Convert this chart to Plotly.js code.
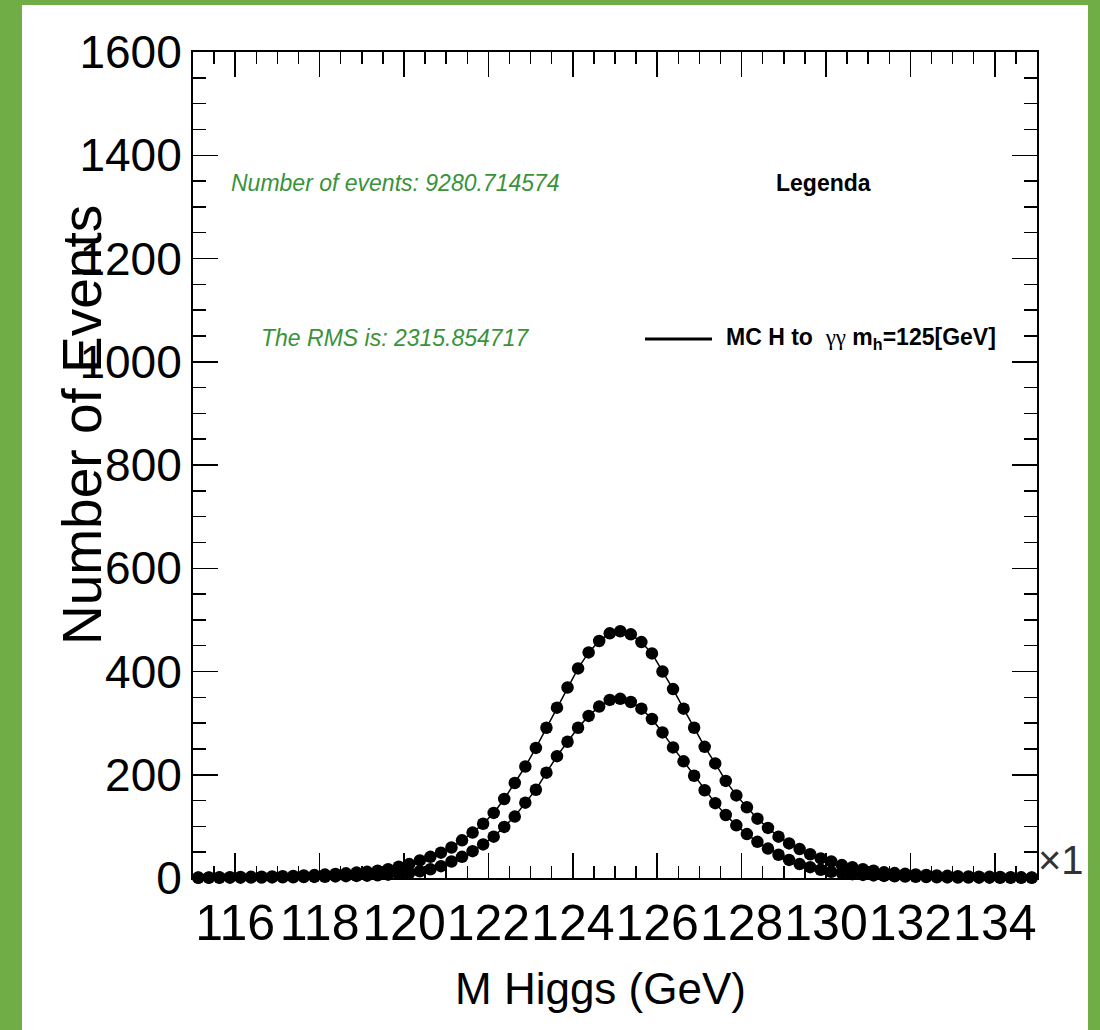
<!DOCTYPE html>
<html>
<head>
<meta charset="utf-8">
<script src="https://cdn.plot.ly/plotly-3.0.1.min.js"></script>
<style>
  html, body { margin: 0; padding: 0; background: #70ad47; width: 1100px; height: 1030px; overflow: hidden; }
  #chart { position: absolute; left: 22px; top: 5px; width: 1066px; height: 1025px; overflow: hidden; background: #ffffff; }
</style>
</head>
<body>
<div id="chart"></div>
<script>
// Bin centres (GeV)
const massBins = [
  115.125,115.375,115.625,115.875,116.125,116.375,116.625,116.875,
  117.125,117.375,117.625,117.875,118.125,118.375,118.625,118.875,
  119.125,119.375,119.625,119.875,120.125,120.375,120.625,120.875,
  121.125,121.375,121.625,121.875,122.125,122.375,122.625,122.875,
  123.125,123.375,123.625,123.875,124.125,124.375,124.625,124.875,
  125.125,125.375,125.625,125.875,126.125,126.375,126.625,126.875,
  127.125,127.375,127.625,127.875,128.125,128.375,128.625,128.875,
  129.125,129.375,129.625,129.875,130.125,130.375,130.625,130.875,
  131.125,131.375,131.625,131.875,132.125,132.375,132.625,132.875,
  133.125,133.375,133.625,133.875,134.125,134.375,134.625,134.875
];

// Upper curve (events per bin)
const eventsUpper = [
  1.0,1.2,1.4,1.6,1.9,2.2,2.6,3.0,
  3.5,4.1,4.8,5.6,6.6,7.7,9.0,10.5,
  12,14,17,22,27,34,41,49,
  59,73,88,105,126,153,184,216,
  252,291,330,369,406,437,459,474,
  478,472,457,435,400,366,328,291,
  254,222,188,160,137,115,97,80,
  67,56,46,38,32,25,21,17,
  14,11,9.5,8.0,6.8,5.8,4.9,4.2,
  3.6,3.1,2.6,2.2,1.9,1.6,1.3,1.1
];

// Lower curve (events per bin)
const eventsLower = [
  0.3,0.4,0.5,0.6,0.7,0.8,0.9,1.1,
  1.3,1.5,1.8,2.1,2.5,3.0,3.5,4.0,
  4.6,5.3,6.5,8,10,13,17,23,
  32,41,52,65,80,99,119,146,
  171,204,236,264,291,314,332,345,
  347,341,328,308,282,253,226,198,
  170,145,122,102,85,70,57,45,
  35,27,21,16,12,9.5,7.5,6.0,
  5.0,4.0,3.3,2.7,2.2,1.8,1.5,1.2,
  1.0,0.8,0.7,0.6,0.5,0.4,0.35,0.3
];

const xTickVals = [116,118,120,122,124,126,128,130,132,134];
const yTickVals = [0,200,400,600,800,1000,1200,1400,1600];

const xTitle = "M Higgs (GeV)";
const yTitle = "Number of Events";
const infoEvents = "Number of events: 9280.714574";
const infoRMS = "The RMS is: 2315.854717";
const legendTitle = "Legenda";
const legendLabel = "MC H to  <span style='font-family:\"Liberation Serif\",\"DejaVu Serif\",serif;font-weight:normal'>γγ</span> m<sub>h</sub>=125[GeV]";
const exponentLabel = "×1";

const sans = '"Liberation Sans", Arial, sans-serif';
const markerStyle = { symbol: 'circle', size: 12.5, color: '#000000', line: { width: 0 } };
const lineStyle = { color: '#000000', width: 1.5 };

const traces = [
  { x: massBins, y: eventsUpper, type: 'scatter', mode: 'lines+markers', marker: markerStyle, line: lineStyle, showlegend: false, cliponaxis: false },
  { x: massBins, y: eventsLower, type: 'scatter', mode: 'lines+markers', marker: markerStyle, line: lineStyle, showlegend: false, cliponaxis: false }
];

const layout = {
  width: 1066, height: 1025,
  margin: { l: 171, r: 51, t: 47, b: 152 },
  paper_bgcolor: '#ffffff', plot_bgcolor: '#ffffff',
  showlegend: false,
  xaxis: {
    range: [115, 135],
    tickvals: xTickVals, ticktext: xTickVals.map(String), tickangle: 0,
    ticks: 'inside', ticklen: 25, tickwidth: 1.5, tickcolor: '#000',
    minor: { dtick: 0.5, tick0: 115, ticks: 'inside', ticklen: 12, tickwidth: 1.5, tickcolor: '#000' },
    showline: true, linecolor: '#000', linewidth: 2, mirror: 'allticks',
    showgrid: false, zeroline: false,
    tickfont: { family: sans, size: 50, color: '#000' }
  },
  yaxis: {
    range: [0, 1600],
    tickvals: yTickVals, ticktext: yTickVals.map(String),
    ticks: 'inside', ticklen: 25, tickwidth: 1.5, tickcolor: '#000',
    minor: { dtick: 50, tick0: 0, ticks: 'inside', ticklen: 13, tickwidth: 1.5, tickcolor: '#000' },
    showline: true, linecolor: '#000', linewidth: 2, mirror: 'allticks',
    showgrid: false, zeroline: false,
    tickfont: { family: sans, size: 46, color: '#000' }
  },
  annotations: [
    { text: yTitle, textangle: -90, xref: 'paper', yref: 'paper', x: (82 - 193) / 844, y: (878 - 425) / 826,
      xanchor: 'center', yanchor: 'middle', showarrow: false,
      font: { family: sans, size: 55, color: '#000' } },
    { text: xTitle, xref: 'paper', yref: 'paper', x: (600 - 193) / 844, y: (878 - 988) / 826,
      xanchor: 'center', yanchor: 'middle', showarrow: false,
      font: { family: sans, size: 44, color: '#000' } },
    { text: '<i>' + infoEvents + '</i>', xref: 'paper', yref: 'paper', x: (395 - 193) / 844, y: (878 - 183) / 826,
      xanchor: 'center', yanchor: 'middle', showarrow: false,
      font: { family: sans, size: 23, color: '#3a923a' } },
    { text: '<i>' + infoRMS + '</i>', xref: 'paper', yref: 'paper', x: (395 - 193) / 844, y: (878 - 338) / 826,
      xanchor: 'center', yanchor: 'middle', showarrow: false,
      font: { family: sans, size: 23, color: '#3a923a' } },
    { text: '<b>' + legendTitle + '</b>', xref: 'paper', yref: 'paper', x: (823 - 193) / 844, y: (878 - 183) / 826,
      xanchor: 'center', yanchor: 'middle', showarrow: false,
      font: { family: sans, size: 23, color: '#000' } },
    { text: '<b>' + legendLabel + '</b>', xref: 'paper', yref: 'paper', x: (724 - 193) / 844, y: (878 - 339) / 826,
      xanchor: 'left', yanchor: 'middle', showarrow: false,
      font: { family: sans, size: 23, color: '#000' } },
    { text: exponentLabel, xref: 'paper', yref: 'paper', x: (1037 - 193) / 844, y: (878 - 860) / 826,
      xanchor: 'left', yanchor: 'middle', showarrow: false, borderpad: 0,
      font: { family: sans, size: 40, color: '#333' } }
  ],
  shapes: [
    { type: 'line', xref: 'paper', yref: 'paper', x0: (645 - 193) / 844, x1: (712 - 193) / 844,
      y0: (878 - 339) / 826, y1: (878 - 339) / 826,
      line: { color: '#000', width: 3 } }
  ]
};

Plotly.newPlot('chart', traces, layout, { displayModeBar: false, staticPlot: true });
</script>
</body>
</html>
